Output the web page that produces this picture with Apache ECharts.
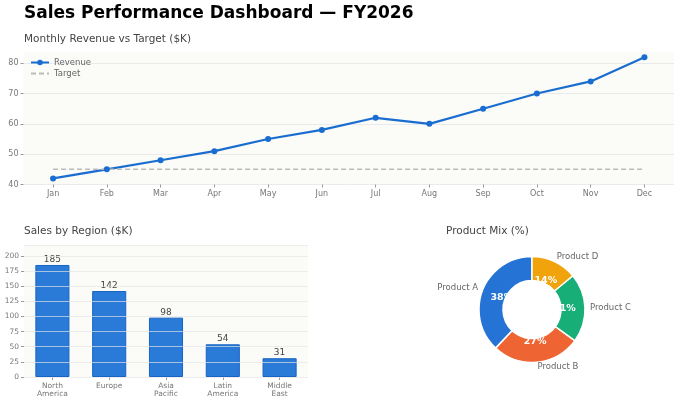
<!DOCTYPE html>
<html>
<head>
<meta charset="utf-8">
<script src="https://cdn.jsdelivr.net/npm/echarts@6/dist/echarts.min.js"></script>
<style>
  html, body { margin: 0; padding: 0; background: #fff; }
  #main { width: 680px; height: 403px; }
</style>
</head>
<body>
<div id="main"></div>
<script>
var months = ['Jan','Feb','Mar','Apr','May','Jun','Jul','Aug','Sep','Oct','Nov','Dec'];
var revenue = [42,45,48,51,55,58,62,60,65,70,74,82];
var target = [45,45,45,45,45,45,45,45,45,45,45,45];
var revTicks = [40,50,60,70,80];

var regions = ['North\nAmerica','Europe','Asia\nPacific','Latin\nAmerica','Middle\nEast'];
var regionSales = [185,142,98,54,31];

var products = ['Product A','Product B','Product C','Product D'];
var productShare = [38,27,21,14];
var productColors = ['#2574d5','#ee6432','#17ae77','#f0a30a'];

var monthIdx = months.map(function(m, i){ return i; });
var font = 'DejaVu Sans';
var myChart = echarts.init(document.getElementById('main'));

var pieData = products.map(function(p, i){
  return { name: p, value: productShare[i], itemStyle: { color: productColors[i] } };
});

var option = {
  backgroundColor: '#fff',
  textStyle: { fontFamily: font },
  animation: false,
  title: [
    { text: 'Sales Performance Dashboard — FY2026', left: 19, top: 0,
      textStyle: { fontFamily: font, fontSize: 17, fontWeight: 'bold', color: '#000' } },
    { text: 'Monthly Revenue vs Target ($K)', left: 19, top: 29,
      textStyle: { fontFamily: font, fontSize: 10.5, fontWeight: 'normal', color: '#444' } },
    { text: 'Sales by Region ($K)', left: 19, top: 221,
      textStyle: { fontFamily: font, fontSize: 10.5, fontWeight: 'normal', color: '#444' } },
    { text: 'Product Mix (%)', left: 441, top: 221,
      textStyle: { fontFamily: font, fontSize: 10.5, fontWeight: 'normal', color: '#444' } }
  ],
  legend: {
    orient: 'vertical', left: 25, top: 53,
    itemWidth: 18, itemHeight: 7, itemGap: 2,
    textStyle: { fontFamily: font, fontSize: 8.5, color: '#666' },
    data: ['Revenue', { name: 'Target', itemStyle: { opacity: 0 } }]
  },
  grid: [
    { left: 23.5, right: 6, top: 52, bottom: 218.5, show: true,
      backgroundColor: '#fbfbf8', borderWidth: 0 },
    { left: 24, right: 372, top: 245, bottom: 26, show: true,
      backgroundColor: '#fbfbf8', borderWidth: 0 }
  ],
  xAxis: [
    { type: 'value', gridIndex: 0, min: -0.55, max: 11.55,
      axisLine: { show: false, onZero: false },
      axisTick: { show: true, length: 3, customValues: monthIdx, lineStyle: { color: '#999' } },
      axisLabel: { customValues: monthIdx, fontSize: 8, color: '#777', margin: 5,
        formatter: function(v){ return months[Math.round(v)]; } },
      splitLine: { show: false } },
    { type: 'category', gridIndex: 1, data: regions,
      axisLine: { show: false, onZero: false },
      axisTick: { show: true, alignWithLabel: true, length: 3, lineStyle: { color: '#999' } },
      axisLabel: { fontSize: 7.5, color: '#777', margin: 5, lineHeight: 8.3 } }
  ],
  yAxis: [
    { type: 'value', gridIndex: 0, min: 40, max: 83.7,
      axisLine: { show: false, onZero: false },
      axisTick: { show: true, length: 3, customValues: revTicks, lineStyle: { color: '#999' } },
      axisLabel: { customValues: revTicks, fontSize: 8, color: '#777', margin: 5 },
      splitLine: { lineStyle: { color: '#e6e6e6', width: 0.8 } } },
    { type: 'value', gridIndex: 1, min: 0, max: 218, interval: 25, z: 5,
      axisLine: { show: false, onZero: false },
      axisTick: { show: true, length: 3, lineStyle: { color: '#999' } },
      axisLabel: { fontSize: 7.5, color: '#777', margin: 5, showMaxLabel: false },
      splitLine: { lineStyle: { color: 'rgba(228,228,228,0.85)', width: 0.8 } } }
  ],
  series: [
    { name: 'Revenue', type: 'line', xAxisIndex: 0, yAxisIndex: 0,
      data: revenue.map(function(v, i){ return [i, v]; }),
      symbol: 'circle', symbolSize: 6,
      lineStyle: { color: '#1a6dd0', width: 2.2 },
      itemStyle: { color: '#1a6dd0' } },
    { name: 'Target', type: 'line', xAxisIndex: 0, yAxisIndex: 0,
      data: target.map(function(v, i){ return [i, v]; }),
      symbol: 'none',
      lineStyle: { color: '#bbbbbb', width: 1.5, type: [5, 3] },
      itemStyle: { color: '#bbbbbb' } },
    { name: 'Sales', type: 'bar', xAxisIndex: 1, yAxisIndex: 1,
      data: regionSales, barWidth: '60%',
      itemStyle: { color: '#2a7ad8', borderColor: '#1764c4', borderWidth: 1 },
      label: { show: true, position: 'top', distance: 1, fontSize: 9, color: '#444' } },
    { name: 'Mix', type: 'pie', center: [532, 309.5], radius: [29, 53],
      startAngle: 90, clockwise: false, avoidLabelOverlap: false,
      data: pieData,
      itemStyle: { borderColor: '#fff', borderWidth: 1.5 },
      label: { show: true, position: 'outside', formatter: '{b}', fontSize: 8.5, color: '#666',
        distanceToLabelLine: 0 },
      labelLine: { show: false, length: 5, length2: 0 },
      emphasis: { disabled: true } },
    { name: 'MixPct', type: 'pie', center: [532, 309.5], radius: [0, 59], z: 3, silent: true,
      startAngle: 90, clockwise: false, avoidLabelOverlap: false,
      data: pieData.map(function(d){ return { name: d.name, value: d.value }; }),
      itemStyle: { color: 'rgba(0,0,0,0)', borderWidth: 0 },
      label: { show: true, position: 'inside', formatter: '{c}%', fontSize: 9.5,
        fontWeight: 'bold', color: '#fff' },
      labelLine: { show: false },
      emphasis: { disabled: true } }
  ]
};

myChart.setOption(option);
</script>
</body>
</html>
